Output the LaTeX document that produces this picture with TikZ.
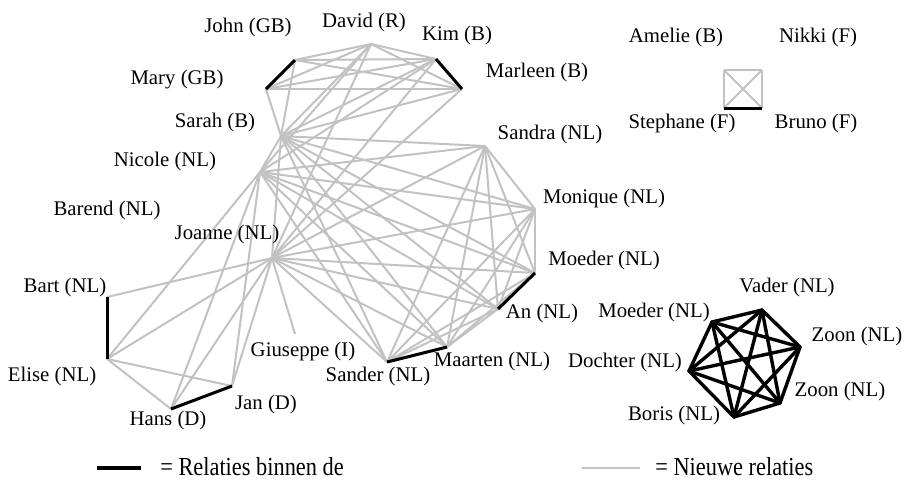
\documentclass[tikz,border=0pt]{standalone}
\usepackage{fontspec}
\setmainfont{Liberation Serif}
\begin{document}
\begin{tikzpicture}[x=0.5pt,y=-0.5pt,
  lbl/.style={inner sep=0pt,font=\fontsize{10.4}{12}\selectfont},
  leg/.style={inner sep=0pt,anchor=west,font=\fontsize{13}{15}\selectfont,xscale=0.86},
  newrel/.style={draw={rgb,255:red,194;green,194;blue,194},line width=1pt},
  famrel/.style={draw=black,line width=1.5pt},
  hexrel/.style={draw=black,line width=1.7pt,line cap=round,line join=round}]
\useasboundingbox (0,0) rectangle (904,495);
% points
\coordinate (john) at (295,60);
\coordinate (mary) at (266,89);
\coordinate (david) at (371,44);
\coordinate (kim) at (436,59);
\coordinate (marleen) at (462,89);
\coordinate (sarah) at (281,136);
\coordinate (nicole) at (260,172);
\coordinate (joanne) at (272,258);
\coordinate (bart) at (107,297);
\coordinate (elise) at (107,359);
\coordinate (hans) at (171,409);
\coordinate (jan) at (232,386);
\coordinate (giuseppe) at (295,334);
\coordinate (sander) at (387,362);
\coordinate (maarten) at (447,347);
\coordinate (an) at (498,309);
\coordinate (moeder) at (535,273);
\coordinate (monique) at (535,209);
\coordinate (sandra) at (485,146);
% square
\coordinate (amelie) at (724,70);
\coordinate (nikki) at (762,70);
\coordinate (stephane) at (724,108);
\coordinate (bruno) at (762,108);
% family
\coordinate (vader) at (762,310);
\coordinate (moeder2) at (712,322);
\coordinate (zoon1) at (800,347);
\coordinate (dochter) at (689,371);
\coordinate (zoon2) at (780,403);
\coordinate (boris) at (734,417);
% gray edges: top cluster
\foreach \a/\b in {john/david,john/kim,john/marleen,mary/david,mary/kim,mary/marleen,david/kim,david/marleen}
  \draw[newrel] (\a) -- (\b);
% Sarah
\foreach \b in {mary,john,david,kim,marleen,nicole,joanne,sandra,monique,moeder,an,maarten,sander}
  \draw[newrel] (sarah) -- (\b);
% Nicole
\foreach \b in {david,kim,sandra,monique,moeder,an,maarten,sander,elise,hans,jan}
  \draw[newrel] (nicole) -- (\b);
% Joanne
\foreach \b in {david,kim,marleen,bart,elise,hans,jan,giuseppe,sandra,monique,moeder,an,maarten,sander}
  \draw[newrel] (joanne) -- (\b);
% right cluster
\foreach \a/\b in {sandra/monique,sandra/moeder,sandra/an,sandra/maarten,sandra/sander,monique/moeder,monique/an,monique/maarten,monique/sander,moeder/maarten,moeder/sander,an/maarten,an/sander}
  \draw[newrel] (\a) -- (\b);
% left
\foreach \a/\b in {elise/hans,elise/jan}
  \draw[newrel] (\a) -- (\b);
% square
\foreach \a/\b in {amelie/nikki,amelie/stephane,nikki/bruno,amelie/bruno,nikki/stephane}
  \draw[newrel] (\a) -- (\b);
% black edges
\foreach \a/\b in {john/mary,kim/marleen,bart/elise,hans/jan,sander/maarten,an/moeder,stephane/bruno}
  \draw[famrel] (\a) -- (\b);
% family complete graph
\foreach \a/\b in {vader/moeder2,vader/zoon1,vader/dochter,vader/zoon2,vader/boris,moeder2/zoon1,moeder2/dochter,moeder2/zoon2,moeder2/boris,zoon1/dochter,zoon1/zoon2,zoon1/boris,dochter/zoon2,dochter/boris,zoon2/boris}
  \draw[hexrel] (\a) -- (\b);
% labels
\node[lbl] (ljohn) at (248,27) {John (GB)};
\node[lbl] (ldavid) at (364,22) {David (R)};
\node[lbl] (lkim) at (457,35) {Kim (B)};
\node[lbl] (lmarleen) at (537,72) {Marleen (B)};
\node[lbl] (lmary) at (177,80) {Mary (GB)};
\node[lbl] (lsarah) at (215,122) {Sarah (B)};
\node[lbl] (lnicole) at (165,161) {Nicole (NL)};
\node[lbl] (lbarend) at (107,210) {Barend (NL)};
\node[lbl] (ljoanne) at (227,234) {Joanne (NL)};
\node[lbl] (lbart) at (65,287) {Bart (NL)};
\node[lbl] (lelise) at (52,376) {Elise (NL)};
\node[lbl] (lhans) at (168,420) {Hans (D)};
\node[lbl] (ljan) at (266,404) {Jan (D)};
\node[lbl] (lgiuseppe) at (303,351) {Giuseppe (I)};
\node[lbl] (lsander) at (378,376) {Sander (NL)};
\node[lbl] (lmaarten) at (492,361) {Maarten (NL)};
\node[lbl] (lan) at (542,313) {An (NL)};
\node[lbl] (lmoeder) at (604,260) {Moeder (NL)};
\node[lbl] (lmonique) at (604,198) {Monique (NL)};
\node[lbl] (lsandra) at (550,134) {Sandra (NL)};
\node[lbl] (lamelie) at (676,37) {Amelie (B)};
\node[lbl] (lnikki) at (818,37) {Nikki (F)};
\node[lbl] (lstephane) at (682,123) {Stephane (F)};
\node[lbl] (lbruno) at (816,123) {Bruno (F)};
\node[lbl] (lvader) at (787,287) {Vader (NL)};
\node[lbl] (lmoeder2) at (654,312) {Moeder (NL)};
\node[lbl] (lzoon1) at (857,336) {Zoon (NL)};
\node[lbl] (ldochter) at (625,362) {Dochter (NL)};
\node[lbl] (lzoon2) at (840,391) {Zoon (NL)};
\node[lbl] (lboris) at (674,415) {Boris (NL)};
% legend
\coordinate (lb1) at (97,468);
\coordinate (lb2) at (141,468);
\coordinate (lg1) at (582,468);
\coordinate (lg2) at (640,468);
\draw[black,line width=2pt] (lb1) -- (lb2);
\draw[newrel] (lg1) -- (lg2);
\node[leg] (tb) at (160,467) {= Relaties binnen de};
\node[leg] (tg) at (655,467) {= Nieuwe relaties};
\end{tikzpicture}
\end{document}
